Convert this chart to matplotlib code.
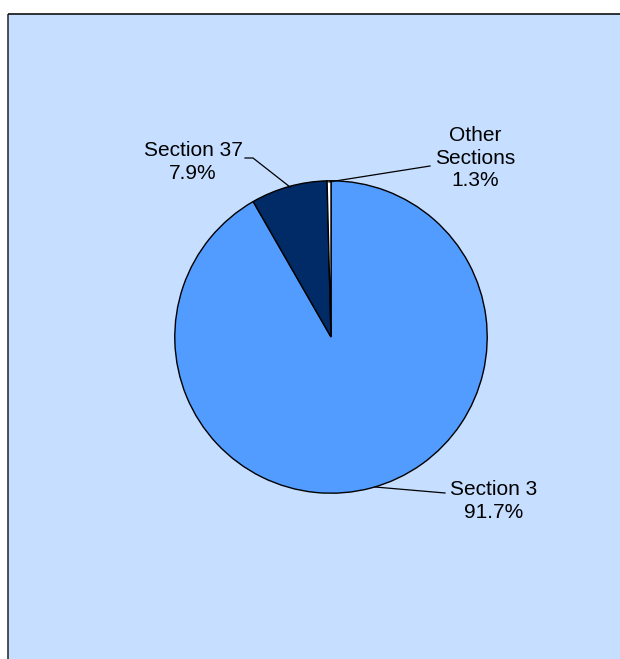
import matplotlib
matplotlib.use("Agg")
import matplotlib.pyplot as plt
from matplotlib.patches import Rectangle

plt.rcParams['font.family'] = ['Liberation Sans', 'DejaVu Sans']

categories = ["Section 3", "Section 37", "Other\nSections"]
shares = [91.7, 7.9, 0.4]
pct_labels = ["91.7%", "7.9%", "1.3%"]
colors = ["#529CFF", "#002B66", "#FFFFFF"]

W, H = 620, 659
fig = plt.figure(figsize=(W / 100, H / 100), dpi=100, facecolor="white")

# background panel with left/top border
bg = Rectangle((8 / W, -0.05), 1.1, (H - 14) / H + 0.05, transform=fig.transFigure,
               facecolor="#C6DEFF", edgecolor="none", zorder=-10)
fig.patches.append(bg)
fig.add_artist(plt.Line2D([8 / W, 8 / W], [0, (H - 14) / H], color="#333333", lw=1.2,
                          transform=fig.transFigure, zorder=-5, solid_capstyle="butt"))
fig.add_artist(plt.Line2D([8 / W, 1.05], [(H - 14) / H, (H - 14) / H], color="#111111", lw=1.2,
                          transform=fig.transFigure, zorder=-5, solid_capstyle="butt"))

cx, cy, R = 331, 337, 157
ax = fig.add_axes([(cx - R) / W, (H - cy - R) / H, 2 * R / W, 2 * R / H])
ax.set_zorder(5)
ax.patch.set_visible(False)
ax.set_xlim(-1, 1)
ax.set_ylim(-1, 1)
ax.set_aspect("equal")
ax.axis("off")

ax.pie(shares, colors=colors, startangle=90, counterclock=False, radius=0.995,
       center=(0, 0), frame=False,
       wedgeprops=dict(edgecolor="black", linewidth=1.0))
ax.set_xlim(-1, 1)
ax.set_ylim(-1, 1)


def px(x, y):
    return ((x - cx) / R, (cy - y) / R)


fs = 15
ls = 1.22
# Section 3
ax.text(*px(494, 501), categories[0] + "\n" + pct_labels[0], ha="center", va="center",
        fontsize=fs, linespacing=ls, clip_on=False)
xs, ys = zip(px(375, 487), px(445, 493))
ax.plot(xs, ys, color="black", lw=0.9, clip_on=False)

# Section 37
ax.text(*px(193, 162), categories[1] + "\n" + pct_labels[1], ha="center", va="center",
        fontsize=fs, linespacing=ls, clip_on=False)
xs, ys = zip(px(245, 158), px(253, 158), px(290, 187))
ax.plot(xs, ys, color="black", lw=0.9, clip_on=False)

# Other Sections
ax.text(*px(475, 158), categories[2] + "\n" + pct_labels[2], ha="center", va="center",
        fontsize=fs, linespacing=ls, clip_on=False)
xs, ys = zip(px(329, 182), px(430, 166))
ax.plot(xs, ys, color="black", lw=0.9, clip_on=False)

fig.savefig("out.png", dpi=100, facecolor="white")
